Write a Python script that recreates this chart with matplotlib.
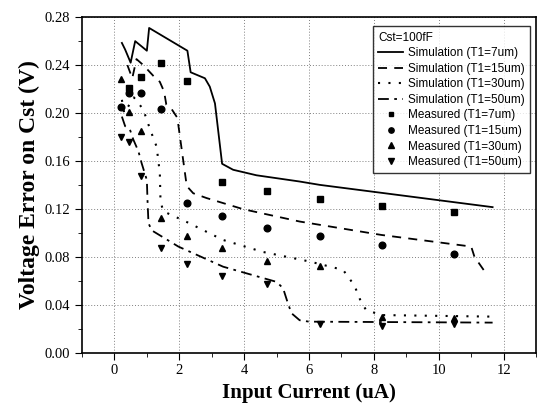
import matplotlib
matplotlib.use("Agg")
import matplotlib.pyplot as plt
from matplotlib.ticker import MultipleLocator

# simulation curves
sim7_x = [0.23, 0.33, 0.50, 0.64, 1.00, 1.07, 2.25, 2.35, 2.79, 2.94, 3.10, 3.32, 3.66, 4.38, 5.71, 6.33, 11.66]
sim7_y = [0.2585, 0.253, 0.242, 0.260, 0.252, 0.271, 0.252, 0.234, 0.229, 0.222, 0.208, 0.1576, 0.1526, 0.148, 0.1428, 0.140, 0.1214]

sim15_x = [0.40, 0.55, 0.68, 0.89, 1.20, 1.40, 1.53, 1.60, 1.77, 1.94, 2.23, 2.43, 2.84, 3.97, 5.71, 8.23, 11.0, 11.1, 11.46]
sim15_y = [0.240, 0.229, 0.245, 0.240, 0.231, 0.226, 0.218, 0.207, 0.203, 0.196, 0.139, 0.133, 0.129, 0.1197, 0.1094, 0.0982, 0.0885, 0.080, 0.066]

sim30_x = [0.23, 0.30, 0.60, 0.89, 1.00, 1.20, 1.30, 1.40, 1.42, 1.50, 2.23, 3.35, 4.58, 6.02, 7.05, 7.40, 7.60, 7.76, 8.23, 11.66]
sim30_y = [0.211, 0.200, 0.213, 0.203, 0.194, 0.179, 0.172, 0.150, 0.127, 0.118, 0.109, 0.094, 0.084, 0.076, 0.069, 0.056, 0.0425, 0.0355, 0.0313, 0.030]

sim50_x = [0.23, 0.33, 0.48, 0.58, 0.74, 0.84, 1.00, 1.02, 1.05, 1.15, 1.97, 3.35, 5.00, 5.20, 5.35, 5.46, 5.71, 6.00, 11.66]
sim50_y = [0.197, 0.189, 0.186, 0.178, 0.168, 0.158, 0.144, 0.127, 0.108, 0.102, 0.0885, 0.0717, 0.059, 0.0537, 0.041, 0.0328, 0.027, 0.0258, 0.025]

# measured points
meas_x = [0.2, 0.45, 0.83, 1.43, 2.25, 3.32, 4.69, 6.33, 8.26, 10.46]
meas7_x = meas_x[1:]
meas7_y = [0.221, 0.230, 0.242, 0.227, 0.1425, 0.135, 0.128, 0.1225, 0.117]
meas15_y = [0.205, 0.217, 0.217, 0.203, 0.125, 0.114, 0.104, 0.0977, 0.090, 0.0823]
meas30_y = [0.228, 0.201, 0.185, 0.112, 0.0974, 0.087, 0.0768, 0.0726, 0.030, 0.0286]
meas50_y = [0.180, 0.176, 0.1475, 0.0877, 0.0737, 0.0642, 0.057, 0.0236, 0.0224, 0.0236]

fig = plt.figure(figsize=(5.38, 4.09), dpi=100)
ax = fig.add_axes([0.1524, 0.138, 0.844, 0.82])

ax.plot(sim7_x, sim7_y, color='black', lw=1.3, label='Simulation (T1=7um)')
ax.plot(sim15_x, sim15_y, color='black', lw=1.3, dashes=(5, 4), label='Simulation (T1=15um)')
ax.plot(sim30_x, sim30_y, color='black', lw=1.5, dashes=(1, 4), label='Simulation (T1=30um)')
ax.plot(sim50_x, sim50_y, color='black', lw=1.3, dashes=(6, 3, 1.5, 3), label='Simulation (T1=50um)')

ms = 4.8
ax.plot(meas7_x, meas7_y, 's', color='black', ms=ms - 0.5, label='Measured (T1=7um)')
ax.plot(meas_x, meas15_y, 'o', color='black', ms=ms, label='Measured (T1=15um)')
ax.plot(meas_x, meas30_y, '^', color='black', ms=ms, label='Measured (T1=30um)')
ax.plot(meas_x, meas50_y, 'v', color='black', ms=ms, label='Measured (T1=50um)')

ax.set_xlim(-1, 13)
ax.set_ylim(0, 0.28)
ax.xaxis.set_major_locator(MultipleLocator(2))
ax.xaxis.set_minor_locator(MultipleLocator(1))
ax.yaxis.set_major_locator(MultipleLocator(0.04))
ax.yaxis.set_minor_locator(MultipleLocator(0.02))
ax.yaxis.set_major_formatter(plt.FormatStrFormatter('%.2f'))
ax.grid(True, which='major', color='gray', ls=(0, (1, 2)), lw=0.7)
ax.tick_params(which='both', direction='out', top=False, right=False,
               labelsize=10.5, labelfontfamily='Liberation Serif')
ax.tick_params(which='major', length=5)
ax.tick_params(which='minor', length=3)
for s in ax.spines.values():
    s.set_linewidth(1.2)

ax.set_xlabel('Input Current (uA)', family='Liberation Serif', weight='bold', fontsize=15, labelpad=4)
ax.set_ylabel('Voltage Error on Cst (V)', family='Liberation Serif', weight='bold', fontsize=17, labelpad=3)

leg = ax.legend(title='Cst=100fF', loc='upper right', bbox_to_anchor=(0.999, 0.99),
                prop={'family': 'Liberation Sans', 'size': 8.5}, frameon=True, fancybox=False,
                edgecolor='black', handlelength=2.1, handletextpad=0.4, labelspacing=0.3,
                borderpad=0.45, markerscale=0.8)
leg.get_title().set_family('Liberation Sans')
leg.get_title().set_fontsize(8.5)
leg._legend_box.align = 'left'
leg.get_frame().set_linewidth(1.0)

fig.savefig('out.png', dpi=100)
